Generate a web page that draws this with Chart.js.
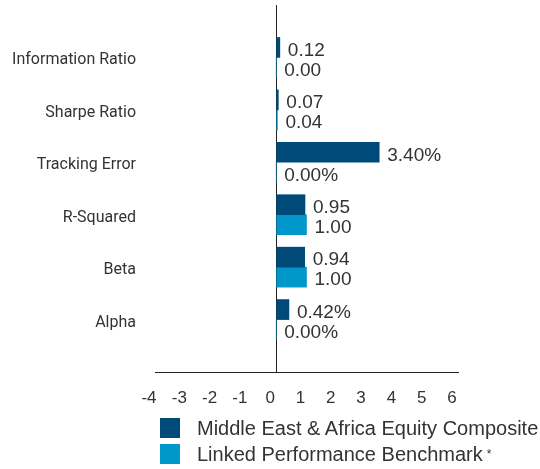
<!DOCTYPE html>
<html>
<head>
<meta charset="utf-8">
<script src="https://cdn.jsdelivr.net/npm/chart.js@4/dist/chart.umd.min.js"></script>
<style>
  body { margin: 0; background: #fff; }
  #wrap { position: relative; width: 540px; height: 469px; }
  #legend { position: absolute; left: 160px; top: 418px; font: 20px "Liberation Sans", Arial, sans-serif; color: #333; }
  .item { display: flex; align-items: center; height: 20px; margin-bottom: 6px; white-space: nowrap; }
  .box { width: 20px; height: 20px; margin-right: 17px; flex: none; }
</style>
</head>
<body>
<div id="wrap">
  <canvas id="myChart" width="540" height="469"></canvas>
  <div id="legend"></div>
</div>
<script>
const colors = {
  dark: "#004A7A",
  light: "#0097CB",
  text: "#333333",
};

const categories = ["Information Ratio", "Sharpe Ratio", "Tracking Error", "R-Squared", "Beta", "Alpha"];
const composite = [0.12, 0.07, 3.40, 0.95, 0.94, 0.42];
const benchmark = [0.00, 0.04, 0.00, 1.00, 1.00, 0.00];
const units = ["", "", "%", "", "", "%"];
const seriesNames = ["Middle East & Africa Equity Composite", "Linked Performance Benchmark*"];
const xTicks = [-4, -3, -2, -1, 0, 1, 2, 3, 4, 5, 6];

// empty slot at each end gives the half-gap above and below the bars
const pad = (arr) => [null, ...arr, null];

// value labels right of each bar
const barLabels = {
  id: "barLabels",
  afterDatasetsDraw(chart) {
    const c = chart.ctx;
    c.save();
    c.font = '19px "Liberation Sans", Arial, sans-serif';
    c.fillStyle = colors.text;
    c.textAlign = "left";
    c.textBaseline = "middle";
    chart.data.datasets.forEach((ds, i) => {
      chart.getDatasetMeta(i).data.forEach((bar, j) => {
        const v = ds.data[j];
        if (v === null) return;
        const end = Math.max(bar.x, bar.base);
        c.fillText(v.toFixed(2) + units[j - 1], end + 8, bar.y + 3);
      });
    });
    c.restore();
  },
};

const ctx = document.getElementById("myChart");
const chart = new Chart(ctx, {
  type: "bar",
  data: {
    labels: pad(categories),
    datasets: [
      { label: seriesNames[0], data: pad(composite), backgroundColor: colors.dark, barThickness: 20 },
      { label: seriesNames[1], data: pad(benchmark), backgroundColor: colors.light, barThickness: 20 },
    ],
  },
  options: {
    indexAxis: "y",
    responsive: false,
    animation: false,
    layout: { padding: { top: 5, right: 82, bottom: 0, left: 0 } },
    plugins: {
      legend: { display: false },
      tooltip: { enabled: false },
    },
    scales: {
      x: {
        min: -4,
        max: 6,
        afterBuildTicks: (s) => { s.ticks = xTicks.map((v) => ({ value: v })); },
        afterFit: (s) => { s.height = 97; s.paddingLeft = 0; s.paddingRight = 0; },
        grid: {
          drawTicks: false,
          color: (c) => (c.tick && c.tick.value === 0 ? "#222" : "transparent"),
        },
        border: { display: true, color: "#222" },
        ticks: {
          padding: 16,
          labelOffset: -6,
          color: colors.text,
          font: { family: '"Liberation Sans", Arial, sans-serif', size: 17 },
        },
      },
      y: {
        offset: false,
        afterFit: (s) => { s.width = 155; s.paddingTop = 0; s.paddingBottom = 0; },
        grid: { display: false, drawTicks: false },
        border: { display: false },
        ticks: {
          padding: 19,
          labelOffset: 3,
          autoSkip: false,
          color: colors.text,
          font: { family: 'Roboto, "Liberation Sans", sans-serif', size: 16 },
        },
      },
    },
  },
  plugins: [barLabels],
});

// legend
document.getElementById("legend").innerHTML = chart.data.datasets
  .map((d) => `<div class="item"><span class="box" style="background:${d.backgroundColor}"></span>${d.label.replace("*", "<sup style='font-size:12px;margin-left:4px'>*</sup>")}</div>`)
  .join("");
</script>
</body>
</html>
